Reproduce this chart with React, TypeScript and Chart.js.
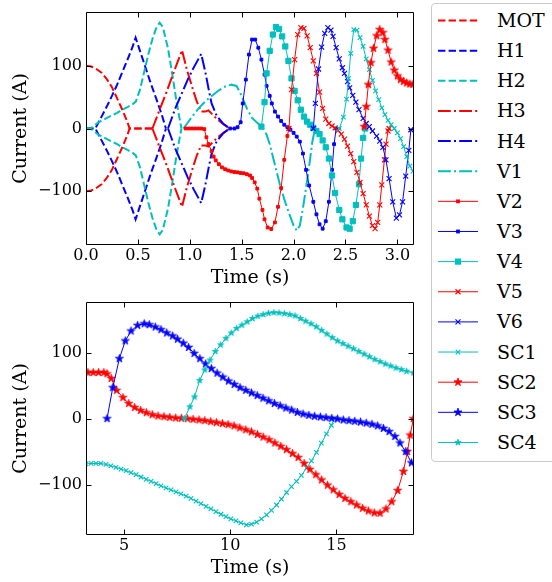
import React, { useEffect, useRef } from "react";
import { Chart, registerables } from "chart.js";

Chart.register(...registerables);

const FONT = "'DejaVu Serif', serif";
const RED = "#ff0000";
const BLUE = "#0000ff";
const CYAN = "#00bfbf";

// ---------- tick labels ----------
const TOP_X_TICKS = [0, 0.5, 1, 1.5, 2, 2.5, 3];
const BOTTOM_X_TICKS = [5, 10, 15];
const Y_TICKS = [-100, 0, 100];

// ---------- series data (time in s, current in A) ----------
const MOT_T = [0, 0.05, 0.1, 0.15, 0.2, 0.25, 0.3, 0.35, 0.4, 0.42, 0.64];
const MOT_UP = [100, 99, 95, 89, 79, 66, 48, 30, 10, 0, 0];
const MOT_DOWN = [-100, -99, -95, -89, -79, -66, -48, -30, -10, 0, 0];

const H1_T = [0, 0.09, 0.15, 0.2, 0.25, 0.3, 0.35, 0.4, 0.45, 0.478, 0.52, 0.58, 0.62, 0.68, 0.73, 0.77];
const H1_UP = [0, 0, 19, 35, 52, 70, 90, 110, 131, 145, 124, 94, 74, 46, 22, 0];
const H1_DOWN = [0, 0, -19, -35, -52, -70, -90, -110, -131, -145, -124, -94, -74, -46, -22, 0];

const H2_T = [0, 0.045, 0.08, 0.12, 0.18, 0.25, 0.3, 0.35, 0.4, 0.45, 0.48, 0.52, 0.56, 0.6, 0.64, 0.68, 0.71, 0.74, 0.79, 0.83, 0.87, 0.91, 0.92];
const H2_UP = [0, 0, 5, 10, 15, 21, 25, 30, 34, 39, 43, 62, 90, 118, 143, 162, 169, 162, 128, 88, 45, 8, 0];
const H2_DOWN = [0, 0, -5, -10, -15, -21, -25, -30, -34, -39, -43, -62, -90, -118, -143, -162, -169, -162, -128, -88, -45, -8, 0];

const H3_T = [0.64, 0.7, 0.78, 0.85, 0.925, 0.97, 1.03, 1.07, 1.11, 1.15, 1.18, 1.22, 1.27, 1.33, 1.385];
const H3_UP = [0, 26, 60, 92, 125, 95, 62, 42, 27, 27, 29, 22, 14, 6, 0];
const H3_DOWN = [0, -26, -60, -92, -125, -95, -62, -42, -27, -27, -29, -22, -14, -6, 0];

const H4_T = [0.79, 0.86, 0.92, 0.98, 1.04, 1.11, 1.15, 1.18, 1.21, 1.26, 1.32, 1.385];
const H4_UP = [0, 32, 55, 78, 98, 119, 90, 64, 40, 20, 8, 0];
const H4_DOWN = [0, -32, -55, -78, -98, -119, -90, -64, -40, -20, -8, 0];

const V1_T = [0.94, 1.0, 1.05, 1.1, 1.16, 1.22, 1.28, 1.34, 1.4, 1.45, 1.5, 1.55, 1.6, 1.65, 1.7, 1.74, 1.77, 1.82, 1.87, 1.92, 1.96, 2.0, 2.03, 2.06, 2.09, 2.12, 2.15, 2.18, 2.2];
const V1_I = [0, 14, 25, 35, 45, 53, 61, 67, 70, 68, 52, 32, 17, 9, 2, -10, -25, -58, -91, -118, -137, -155, -163, -155, -127, -95, -60, -22, -5];

const V2_T = [0.96, 0.99, 1.02, 1.05, 1.08, 1.11, 1.14, 1.16, 1.18, 1.21, 1.23, 1.25, 1.28, 1.31, 1.34, 1.37, 1.4, 1.43, 1.46, 1.49, 1.52, 1.55, 1.58, 1.6, 1.625, 1.65, 1.67, 1.7, 1.72, 1.75, 1.785, 1.82, 1.85, 1.88, 1.91, 1.94, 1.955];
const V2_I = [0, 0, 0, 0, 0, 0, -1, -14, -25, -36, -45, -51, -57, -62, -65, -67, -68.5, -69.5, -70, -71, -71.5, -73, -75, -79, -86, -96, -112, -130, -145, -158, -160.5, -150, -125, -95, -50, -12, 0];

const V3_T = [1.39, 1.43, 1.46, 1.49, 1.51, 1.54, 1.57, 1.6, 1.63, 1.66, 1.69, 1.72, 1.74, 1.77, 1.79, 1.82, 1.85, 1.88, 1.91, 1.94, 1.97, 2.0, 2.03, 2.06, 2.09, 2.12, 2.15, 2.19, 2.22, 2.25, 2.28, 2.31, 2.34, 2.37, 2.39, 2.41];
const V3_I = [0, 0, 2, 10, 40, 78, 118, 142, 142, 129, 110, 86, 68, 52, 40, 27, 19, 12, 6, 2, -2, -7, -13, -21, -40, -66, -91, -117, -137, -153, -160, -148, -117, -66, -25, 0];

const V4_T = [1.69, 1.72, 1.74, 1.77, 1.8, 1.83, 1.86, 1.89, 1.92, 1.95, 1.98, 2.01, 2.04, 2.07, 2.1, 2.13, 2.16, 2.19, 2.22, 2.25, 2.28, 2.31, 2.34, 2.37, 2.4, 2.44, 2.47, 2.51, 2.54, 2.57, 2.6, 2.63, 2.65, 2.67, 2.69];
const V4_I = [3, 42, 88, 124, 150, 162, 159, 147, 131, 108, 80, 60, 45, 30, 19, 11, 6, 1, -4, -9, -19, -30, -48, -75, -103, -130, -145, -158, -160, -148, -122, -89, -48, -15, 0];

const V5_T = [1.955, 1.98, 2.01, 2.04, 2.07, 2.1, 2.13, 2.16, 2.19, 2.22, 2.25, 2.28, 2.31, 2.34, 2.37, 2.4, 2.43, 2.46, 2.49, 2.52, 2.55, 2.58, 2.61, 2.64, 2.67, 2.7, 2.73, 2.76, 2.785, 2.81, 2.83, 2.85, 2.875, 2.89, 2.91, 2.92];
const V5_I = [0, 62, 110, 150, 161, 160, 148, 129, 108, 88, 58, 32, 15, 8, 4, 1, -3, -9, -17, -28, -40, -53, -70, -86, -104, -122, -140, -155, -160, -150, -122, -90, -50, -25, -4, 0];

const V6_T = [2.19, 2.21, 2.24, 2.27, 2.3, 2.33, 2.36, 2.38, 2.41, 2.44, 2.47, 2.49, 2.52, 2.54, 2.57, 2.6, 2.63, 2.67, 2.7, 2.73, 2.76, 2.8, 2.83, 2.86, 2.89, 2.92, 2.955, 2.99, 3.02, 3.05, 3.08, 3.11, 3.13];
const V6_I = [0, 40, 95, 130, 152, 161, 157, 147, 129, 111, 97, 88, 75, 65, 53, 42, 30, 16, 8, 3, -4, -12, -20, -30, -50, -80, -117, -143, -138, -117, -76, -35, -2];

const SC1_T = [2.44, 2.48, 2.51, 2.53, 2.55, 2.58, 2.61, 2.64, 2.67, 2.7, 2.73, 2.76, 2.79, 2.82, 2.85, 2.88, 2.91, 2.94, 2.97, 3.0, 3.03, 3.06, 3.09, 3.12, 3.15, 3.21, 3.45, 3.68, 3.91, 4.15, 4.38, 4.62, 4.86, 5.1, 5.33, 5.57, 5.8, 6.04, 6.27, 6.51, 6.74, 6.98, 7.21, 7.45, 7.68, 7.92, 8.15, 8.39, 8.62, 8.86, 9.09, 9.33, 9.56, 9.8, 10.03, 10.27, 10.5, 10.76, 11.0, 11.24, 11.47, 11.71, 11.94, 12.18, 12.41, 12.65, 12.88, 13.12, 13.35, 13.59, 13.82, 14.06, 14.29, 14.53, 14.76, 14.9];
const SC1_I = [0, 18, 47, 80, 120, 158, 157, 145, 131, 111, 94, 77, 60, 46, 33, 22, 13, 6, 0, -7, -16, -29, -45, -60, -68, -68.5, -68, -68, -68, -69.5, -71.5, -74, -76.5, -79, -82, -85, -88.5, -92, -95, -98.5, -102, -105, -108, -111, -114, -117.5, -121, -125, -129, -133, -137, -141, -145, -148.5, -152, -155, -158, -161, -160, -157, -152, -146, -139, -131, -122, -112, -103, -95, -86, -75, -64, -51, -37, -23, -10, 0];

const SC2_T = [2.68, 2.7, 2.72, 2.745, 2.77, 2.8, 2.83, 2.86, 2.88, 2.91, 2.94, 2.97, 3.0, 3.03, 3.06, 3.09, 3.12, 3.15, 3.3, 3.55, 3.8, 4.05, 4.2, 4.4, 4.65, 4.95, 5.22, 5.5, 5.78, 6.05, 6.33, 6.6, 6.88, 7.15, 7.43, 7.7, 7.98, 8.25, 8.53, 8.8, 9.08, 9.35, 9.63, 9.9, 10.18, 10.45, 10.73, 11.0, 11.28, 11.55, 11.83, 12.1, 12.38, 12.65, 12.93, 13.2, 13.48, 13.75, 14.03, 14.3, 14.58, 14.85, 15.13, 15.4, 15.68, 15.95, 16.23, 16.5, 16.78, 17.05, 17.33, 17.6, 17.88, 18.15, 18.34, 18.47, 18.62];
const SC2_I = [3, 35, 70, 105, 128, 148, 158, 153, 142, 125, 106, 93, 84, 78, 75, 72.5, 71, 70.5, 70, 70, 70, 70, 68, 61, 43, 32, 23, 17, 12.5, 9, 6, 4, 3, 2, 1, 0.5, 0, -1, -2, -3, -4.5, -6, -7.5, -9, -11, -14, -17, -20, -24, -28, -32, -37, -42, -47, -53, -59, -68, -77, -85, -93, -101, -108, -115, -121, -126, -131, -136, -140, -143, -143.5, -137, -126, -109, -80, -50, -25, 0];

const SC3_T = [4.2, 4.47, 4.78, 5.06, 5.33, 5.64, 5.95, 6.19, 6.47, 6.74, 7.01, 7.29, 7.52, 7.79, 8.04, 8.3, 8.57, 8.84, 9.11, 9.38, 9.65, 9.92, 10.19, 10.46, 10.73, 11.0, 11.27, 11.54, 11.81, 12.08, 12.35, 12.62, 12.89, 13.16, 13.43, 13.7, 13.97, 14.24, 14.51, 14.78, 15.05, 15.32, 15.59, 15.86, 16.13, 16.4, 16.67, 16.94, 17.21, 17.48, 17.75, 17.99, 18.26, 18.53];
const SC3_I = [0, 47, 91, 118, 133, 141.5, 144, 142.5, 139, 135, 130, 125.5, 120.5, 114.5, 108, 99, 91, 83, 76, 69, 63, 57, 52, 47, 43, 39, 35, 31, 27, 23, 19.5, 16, 13, 9.5, 7, 5, 3.5, 2.5, 1.5, 0.5, -0.5, -2, -3, -4, -5.2, -6.8, -8.5, -11, -14.8, -19.6, -27, -37, -50, -67];

const SC4_T = [7.84, 8.1, 8.32, 8.56, 8.8, 9.05, 9.3, 9.55, 9.8, 10.05, 10.3, 10.55, 10.8, 11.05, 11.3, 11.55, 11.8, 12.05, 12.3, 12.55, 12.8, 13.05, 13.3, 13.55, 13.8, 14.05, 14.3, 14.55, 14.8, 15.05, 15.3, 15.55, 15.8, 16.05, 16.3, 16.55, 16.8, 17.05, 17.3, 17.55, 17.8, 18.05, 18.3, 18.62];
const SC4_I = [0, 18, 33, 58, 74, 89, 102, 112, 122, 130, 137, 142, 147, 152, 155.5, 158, 160, 161, 160.5, 159.5, 158, 156, 152, 148, 144, 139.5, 134, 128.5, 123, 118, 114, 110, 106, 102, 98, 94, 90, 86.5, 83, 80, 77, 74.5, 72, 69.5];

// ---------- styles ----------
const DASHED = [7.4, 3.2];
const DASHDOT = [12.8, 3.2, 2, 3.2];

type MarkerKind = "none" | "square" | "x" | "star";
type Line = { t: number[]; i: number[] };
type Series = {
  label: string;
  lines: Line[];
  color: string;
  dash: number[];
  width: number;
  marker: MarkerKind;
  size: number;
};

const SERIES: Series[] = [
  { label: "MOT", lines: [{ t: MOT_T, i: MOT_UP }, { t: MOT_T, i: MOT_DOWN }], color: RED, dash: DASHED, width: 2, marker: "none", size: 0 },
  { label: "H1", lines: [{ t: H1_T, i: H1_UP }, { t: H1_T, i: H1_DOWN }], color: BLUE, dash: DASHED, width: 2, marker: "none", size: 0 },
  { label: "H2", lines: [{ t: H2_T, i: H2_UP }, { t: H2_T, i: H2_DOWN }], color: CYAN, dash: DASHED, width: 2, marker: "none", size: 0 },
  { label: "H3", lines: [{ t: H3_T, i: H3_UP }, { t: H3_T, i: H3_DOWN }], color: RED, dash: DASHDOT, width: 2, marker: "none", size: 0 },
  { label: "H4", lines: [{ t: H4_T, i: H4_UP }, { t: H4_T, i: H4_DOWN }], color: BLUE, dash: DASHDOT, width: 2, marker: "none", size: 0 },
  { label: "V1", lines: [{ t: V1_T, i: V1_I }], color: CYAN, dash: DASHDOT, width: 2, marker: "none", size: 0 },
  { label: "V2", lines: [{ t: V2_T, i: V2_I }], color: RED, dash: [], width: 1, marker: "square", size: 3.8 },
  { label: "V3", lines: [{ t: V3_T, i: V3_I }], color: BLUE, dash: [], width: 1, marker: "square", size: 3.8 },
  { label: "V4", lines: [{ t: V4_T, i: V4_I }], color: CYAN, dash: [], width: 1, marker: "square", size: 6.2 },
  { label: "V5", lines: [{ t: V5_T, i: V5_I }], color: RED, dash: [], width: 1, marker: "x", size: 5 },
  { label: "V6", lines: [{ t: V6_T, i: V6_I }], color: BLUE, dash: [], width: 1, marker: "x", size: 5 },
  { label: "SC1", lines: [{ t: SC1_T, i: SC1_I }], color: CYAN, dash: [], width: 1, marker: "x", size: 4.5 },
  { label: "SC2", lines: [{ t: SC2_T, i: SC2_I }], color: RED, dash: [], width: 1, marker: "star", size: 8.5 },
  { label: "SC3", lines: [{ t: SC3_T, i: SC3_I }], color: BLUE, dash: [], width: 1, marker: "star", size: 8.5 },
  { label: "SC4", lines: [{ t: SC4_T, i: SC4_I }], color: CYAN, dash: [], width: 1, marker: "star", size: 6.5 },
];

function starCanvas(color: string, d: number): HTMLCanvasElement {
  const s = Math.ceil(d) + 2;
  const c = document.createElement("canvas");
  c.width = s;
  c.height = s;
  const g = c.getContext("2d")!;
  const R = d / 2;
  const r = R * 0.382;
  g.beginPath();
  for (let k = 0; k < 10; k++) {
    const ang = -Math.PI / 2 + (k * Math.PI) / 5;
    const rad = k % 2 === 0 ? R : r;
    const px = s / 2 + rad * Math.cos(ang);
    const py = s / 2 + rad * Math.sin(ang);
    if (k === 0) g.moveTo(px, py);
    else g.lineTo(px, py);
  }
  g.closePath();
  g.fillStyle = color;
  g.fill();
  g.strokeStyle = color;
  g.lineWidth = 0.8;
  g.stroke();
  return c;
}

function buildDatasets(): any[] {
  const out: any[] = [];
  SERIES.forEach((s) => {
    const star = s.marker === "star" ? starCanvas(s.color, s.size) : null;
    s.lines.forEach((ln) => {
      const d: any = {
        label: s.label,
        data: ln.t.map((t, k) => ({ x: t, y: ln.i[k] })),
        borderColor: s.color,
        backgroundColor: s.color,
        borderWidth: s.width,
        borderDash: s.dash,
        fill: false,
        tension: 0,
        pointBackgroundColor: s.color,
        pointBorderColor: s.color,
      };
      if (s.marker === "none") {
        d.pointRadius = 0;
      } else if (s.marker === "square") {
        d.pointStyle = "rect";
        d.pointRadius = (s.size - 1) / 1.414;
        d.pointBorderWidth = 1;
      } else if (s.marker === "x") {
        d.pointStyle = "crossRot";
        d.pointRadius = s.size / 1.414;
        d.pointBorderWidth = 1.1;
      } else {
        d.pointStyle = star;
        d.pointRadius = s.size / 2;
      }
      out.push(d);
    });
  });
  out.forEach((d, k) => (d.order = out.length - k));
  return out;
}

const framePlugin = {
  id: "frameTicks",
  afterDraw(chart: any) {
    const { ctx, chartArea: a } = chart;
    const xs = chart.scales.x;
    const ys = chart.scales.y;
    const L = a.left + 0.5;
    const R = a.right - 0.5;
    const T = a.top + 0.5;
    const B = a.bottom - 0.5;
    const len = 5;
    ctx.save();
    ctx.strokeStyle = "#000";
    ctx.lineWidth = 1;
    ctx.setLineDash([]);
    ctx.beginPath();
    ctx.rect(L, T, R - L, B - T);
    for (const tk of xs.ticks) {
      const p = Math.round(xs.getPixelForValue(tk.value)) + 0.5;
      ctx.moveTo(p, B);
      ctx.lineTo(p, B - len);
      ctx.moveTo(p, T);
      ctx.lineTo(p, T + len);
    }
    for (const tk of ys.ticks) {
      const p = Math.round(ys.getPixelForValue(tk.value)) + 0.5;
      ctx.moveTo(L, p);
      ctx.lineTo(L + len, p);
      ctx.moveTo(R, p);
      ctx.lineTo(R - len, p);
    }
    ctx.stroke();
    ctx.restore();
  },
};

const fmtY = (v: number) => (v < 0 ? "\u2212" + Math.abs(v) : String(v));

function makeConfig(p: {
  xMin: number; xMax: number; xTicks: number[]; xFmt: (v: number) => string;
  yMin: number; yMax: number; padTop: number; xAxisH: number; titlePadB: number;
}): any {
  return {
    type: "line",
    data: { datasets: buildDatasets() },
    plugins: [framePlugin],
    options: {
      animation: false,
      responsive: false,
      events: [],
      layout: { padding: { top: p.padTop, right: 6, left: 0, bottom: 0 } },
      plugins: { legend: { display: false }, tooltip: { enabled: false } },
      scales: {
        x: {
          type: "linear",
          min: p.xMin,
          max: p.xMax,
          afterBuildTicks: (s: any) => { s.ticks = p.xTicks.map((v) => ({ value: v })); },
          afterFit: (s: any) => { s.height = p.xAxisH; },
          grid: { display: false, drawTicks: false },
          border: { display: false },
          ticks: {
            color: "#000",
            font: { family: FONT, size: 16, lineHeight: 1 },
            padding: 2.5,
            autoSkip: false,
            maxRotation: 0,
            minRotation: 0,
            callback: (v: any) => p.xFmt(Number(v)),
          },
          title: {
            display: true,
            text: "Time (s)",
            color: "#000",
            font: { family: FONT, size: 19, lineHeight: 1 },
            padding: { top: 0, bottom: p.titlePadB },
          },
        },
        y: {
          type: "linear",
          min: p.yMin,
          max: p.yMax,
          afterBuildTicks: (s: any) => { s.ticks = Y_TICKS.map((v) => ({ value: v })); },
          afterFit: (s: any) => { s.width = 86; },
          grid: { display: false, drawTicks: false },
          border: { display: false },
          ticks: {
            color: "#000",
            font: { family: FONT, size: 16, lineHeight: 1 },
            padding: 4,
            autoSkip: false,
            callback: (v: any) => fmtY(Number(v)),
          },
          title: {
            display: true,
            text: "Current (A)",
            color: "#000",
            font: { family: FONT, size: 19, lineHeight: 1 },
            padding: { top: 12, bottom: 0 },
          },
        },
      },
    },
  };
}

function Swatch({ s, cy }: { s: Series; cy: number }) {
  const top = Math.floor(cy) - 8;
  const ly = 8 + (cy - Math.floor(cy));
  const cx = 22;
  let marker: any = null;
  if (s.marker === "square") {
    marker = <rect x={cx - s.size / 2} y={ly - s.size / 2} width={s.size} height={s.size} fill={s.color} />;
  } else if (s.marker === "x") {
    const h = s.size / 2;
    marker = (
      <g stroke={s.color} strokeWidth={1.1}>
        <line x1={cx - h} y1={ly - h} x2={cx + h} y2={ly + h} />
        <line x1={cx - h} y1={ly + h} x2={cx + h} y2={ly - h} />
      </g>
    );
  } else if (s.marker === "star") {
    const R = s.size / 2;
    const r = R * 0.382;
    const pts: string[] = [];
    for (let k = 0; k < 10; k++) {
      const ang = -Math.PI / 2 + (k * Math.PI) / 5;
      const rad = k % 2 === 0 ? R : r;
      pts.push(`${cx + rad * Math.cos(ang)},${ly + rad * Math.sin(ang)}`);
    }
    marker = <polygon points={pts.join(" ")} fill={s.color} stroke={s.color} strokeWidth={0.8} />;
  }
  return (
    <svg width={44} height={16} style={{ position: "absolute", left: 436, top }}>
      <line x1={2} y1={ly} x2={42} y2={ly} stroke={s.color} strokeWidth={s.width}
        strokeDasharray={s.dash.length ? s.dash.join(" ") : undefined} />
      {marker}
    </svg>
  );
}

function Legend() {
  return (
    <>
      <div style={{ position: "absolute", left: 431, top: 3, width: 140, height: 459, border: "1px solid #cccccc", borderRadius: 4, background: "#fff", boxSizing: "border-box" }} />
      {SERIES.map((s, k) => {
        const cy = 20.5 + k * 30.14;
        return (
          <React.Fragment key={s.label}>
            <Swatch s={s} cy={cy} />
            <span style={{ position: "absolute", left: 497, top: cy - 9.5, fontFamily: FONT, fontSize: 19, lineHeight: "19px", color: "#000", whiteSpace: "nowrap" }}>
              {s.label}
            </span>
          </React.Fragment>
        );
      })}
    </>
  );
}

export default function App() {
  const topRef = useRef<HTMLCanvasElement>(null);
  const botRef = useRef<HTMLCanvasElement>(null);

  useEffect(() => {
    const c1 = new Chart(topRef.current as HTMLCanvasElement, makeConfig({
      xMin: 0, xMax: 3.16, xTicks: TOP_X_TICKS, xFmt: (v) => v.toFixed(1),
      yMin: -186, yMax: 186, padTop: 3, xAxisH: 45, titlePadB: 2.5,
    }));
    const c2 = new Chart(botRef.current as HTMLCanvasElement, makeConfig({
      xMin: 3.21, xMax: 18.65, xTicks: BOTTOM_X_TICKS, xFmt: (v) => String(v),
      yMin: -176.5, yMax: 177, padTop: 3, xAxisH: 47, titlePadB: 4.5,
    }));
    return () => {
      c1.destroy();
      c2.destroy();
    };
  }, []);

  return (
    <div style={{ position: "absolute", left: 0, top: 0, width: 552, height: 582, overflow: "hidden", background: "#fff" }}>
      <canvas ref={topRef} width={420} height={290} style={{ position: "absolute", left: 0, top: 0, width: 420, height: 290 }} />
      <canvas ref={botRef} width={420} height={292} style={{ position: "absolute", left: 0, top: 290, width: 420, height: 292 }} />
      <Legend />
    </div>
  );
}
